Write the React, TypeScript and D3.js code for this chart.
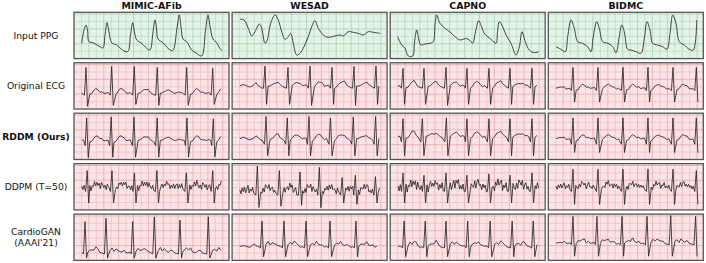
import React from 'react';
import * as d3 from 'd3';

type P = [number, number];
type Beat = [number, number, number]; // [time, R level, S level]

const COLUMNS = ['MIMIC-AFib', 'WESAD', 'CAPNO', 'BIDMC'];
const ROW_LABELS: string[][] = [['Input PPG'], ['Original ECG'], ['RDDM (Ours)'], ['DDPM (T=50)'], ['CardioGAN', "(AAAI'21)"]];
const BOLD_ROW = 2;

// ---------- PPG traces (time in s, amplitude 0..1) ----------
const PPG_MIMIC: P[] = [
  [0.497, 0.33], [0.645, 0.62], [0.774, 0.726], [0.87, 0.62], [0.968, 0.365], [1.226, 0.343], [1.484, 0.294], [1.677, 0.257], [1.871, 0.229],
  [2.0, 0.51], [2.129, 0.775], [2.258, 0.575], [2.432, 0.343], [2.755, 0.294], [3.077, 0.2], [3.465, 0.149],
  [3.645, 0.51], [3.787, 0.775], [3.903, 0.575], [4.045, 0.402], [4.368, 0.33], [4.69, 0.222], [4.903, 0.186],
  [5.097, 0.575], [5.226, 0.834], [5.323, 0.66], [5.419, 0.423], [5.742, 0.343], [6.065, 0.222], [6.368, 0.171],
  [6.645, 0.661], [6.794, 0.942], [6.903, 0.683], [7.032, 0.423], [7.271, 0.365], [7.594, 0.186], [7.916, 0.114], [8.239, 0.056],
  [8.484, 0.618], [8.645, 0.942], [8.774, 0.704], [8.968, 0.423], [9.206, 0.343], [9.355, 0.25], [9.529, 0.171],
];
const PPG_WESAD: P[] = [
  [0.51, 0.849], [0.768, 0.834], [1.045, 0.654], [1.265, 0.488], [1.477, 0.581], [1.755, 0.747], [1.91, 0.654], [2.123, 0.33],
  [2.27, 0.402], [2.49, 0.762], [2.768, 0.942], [2.98, 0.834], [3.2, 0.581], [3.413, 0.417], [3.626, 0.473], [3.781, 0.546],
  [3.949, 0.33], [4.168, 0.078], [4.381, 0.114], [4.639, 0.257], [4.916, 0.473], [5.135, 0.689], [5.348, 0.819], [5.561, 0.654],
  [5.884, 0.51], [6.206, 0.46], [6.639, 0.488], [6.961, 0.51], [7.174, 0.488], [7.497, 0.581], [7.819, 0.568], [8.142, 0.546],
  [8.465, 0.51], [8.787, 0.581], [9.11, 0.568], [9.542, 0.546],
];
const PPG_CAPNO: P[] = [
  [0.484, 0.473], [0.632, 0.359], [0.742, 0.294], [0.955, 0.222], [1.168, 0.056], [1.452, 0.056], [1.568, 0.359], [1.71, 0.618],
  [1.826, 0.445], [1.968, 0.294], [2.245, 0.315], [2.568, 0.33], [2.781, 0.365], [2.89, 0.726], [3.0, 0.942], [3.213, 0.762],
  [3.535, 0.654], [3.858, 0.575], [4.181, 0.473], [4.503, 0.402], [4.9, 0.434], [5.148, 0.391], [5.323, 0.33], [5.503, 0.575],
  [5.71, 0.819], [5.923, 0.661], [6.097, 0.531], [6.503, 0.417], [6.826, 0.33], [6.923, 0.575], [7.039, 0.797], [7.258, 0.689],
  [7.471, 0.51], [7.794, 0.33], [8.116, 0.078], [8.329, 0.25], [8.503, 0.581], [8.716, 0.365], [8.974, 0.186], [9.297, 0.127], [9.58, 0.149],
];
const PPG_BIDMC: P[] = [
  [0.497, 0.257], [0.819, 0.2], [1.097, 0.149], [1.252, 0.473], [1.465, 0.834], [1.677, 0.654], [1.897, 0.365], [2.219, 0.33],
  [2.542, 0.257], [2.755, 0.149], [2.903, 0.473], [3.123, 0.797], [3.29, 0.654], [3.51, 0.365], [3.832, 0.33], [4.155, 0.257],
  [4.368, 0.127], [4.581, 0.473], [4.735, 0.726], [4.903, 0.581], [5.123, 0.2], [5.335, 0.186], [5.658, 0.149], [5.981, 0.114],
  [6.194, 0.438], [6.368, 0.797], [6.561, 0.618], [6.736, 0.33], [7.058, 0.294], [7.381, 0.257], [7.658, 0.2], [7.852, 0.546],
  [8.026, 0.942], [8.239, 0.762], [8.452, 0.365], [8.774, 0.294], [9.097, 0.2], [9.355, 0.186], [9.574, 0.834],
];

// ---------- ECG beats per panel ----------
const ORIG_MIMIC: Beat[] = [[0.774, 0.9, 0.06], [2.432, 0.92, 0.08], [3.89, 0.92, 0.1], [5.374, 0.9, 0.08], [7.271, 0.9, 0.08], [8.948, 0.88, 0.1]];
const ORIG_WESAD: Beat[] = [[2.123, 0.93, 0.1], [3.606, 0.9, 0.1], [5.026, 0.93, 0.08], [6.445, 0.9, 0.1], [7.865, 0.92, 0.08], [9.284, 0.93, 0.1]];
const ORIG_CAPNO: Beat[] = [[0.826, 0.88, 0.1], [2.181, 0.88, 0.1], [3.6, 0.9, 0.08], [4.955, 0.88, 0.1], [6.374, 0.88, 0.1], [7.729, 0.88, 0.1], [9.148, 0.88, 0.1]];
const ORIG_BIDMC: Beat[] = [[1.594, 0.9, 0.15], [3.206, 0.9, 0.15], [4.819, 0.9, 0.15], [6.432, 0.9, 0.15], [8.045, 0.9, 0.15], [9.55, 0.9, 0.15]];

const RDDM_MIMIC: Beat[] = [[0.819, 0.9, 0.04], [2.4, 0.92, 0.05], [3.871, 0.92, 0.05], [5.368, 0.9, 0.05], [7.29, 0.9, 0.05], [8.987, 0.88, 0.06]];
const RDDM_WESAD: Beat[] = [[2.19, 0.93, 0.08], [3.56, 0.9, 0.08], [4.96, 0.93, 0.08], [6.35, 0.9, 0.08], [7.82, 0.92, 0.08], [9.26, 0.93, 0.08]];
const RDDM_CAPNO: Beat[] = [[0.826, 0.88, 0.08], [2.075, 0.88, 0.08], [3.623, 0.9, 0.08], [4.952, 0.88, 0.08], [6.374, 0.88, 0.08], [7.729, 0.88, 0.08], [9.148, 0.88, 0.08]];
const RDDM_BIDMC: Beat[] = [[1.594, 0.9, 0.15], [3.206, 0.9, 0.15], [4.819, 0.9, 0.15], [6.432, 0.9, 0.15], [8.045, 0.9, 0.15], [9.55, 0.9, 0.15]];

const DDPM_MIMIC: Beat[] = [[0.85, 0.85, 0.15], [2.45, 0.85, 0.15], [3.9, 0.8, 0.15], [5.35, 0.85, 0.15], [7.25, 0.8, 0.15], [8.95, 0.85, 0.15]];
const DDPM_WESAD: Beat[] = [[1.63, 0.95, 0.05], [3.05, 0.85, 0.08], [4.38, 0.82, 0.1], [5.63, 0.92, 0.05], [7.1, 0.7, 0.15], [7.95, 0.75, 0.12], [9.25, 0.72, 0.15]];
const DDPM_CAPNO: Beat[] = [[0.83, 0.8, 0.15], [2.18, 0.75, 0.15], [3.6, 0.8, 0.15], [4.95, 0.75, 0.15], [6.37, 0.78, 0.15], [7.73, 0.75, 0.15], [9.15, 0.8, 0.15]];
const DDPM_BIDMC: Beat[] = [[1.594, 0.88, 0.12], [3.206, 0.88, 0.12], [4.819, 0.88, 0.12], [6.432, 0.88, 0.12], [8.045, 0.88, 0.12], [9.55, 0.85, 0.12]];

const GAN_MIMIC: Beat[] = [[0.71, 0.84, 0.05], [2.065, 0.91, 0.05], [3.787, 0.84, 0.05], [5.181, 0.94, 0.05], [6.839, 0.87, 0.05], [8.665, 0.94, 0.05]];
const GAN_WESAD: Beat[] = [[1.93, 0.85, 0.08], [3.35, 0.85, 0.08], [4.77, 0.85, 0.08], [6.32, 0.85, 0.08], [7.99, 0.85, 0.08], [9.6, 0.85, 0.08]];
const GAN_CAPNO: Beat[] = [[0.9, 0.85, 0.08], [2.26, 0.85, 0.08], [3.6, 0.85, 0.08], [5.0, 0.85, 0.08], [6.45, 0.85, 0.08], [7.87, 0.85, 0.08], [9.23, 0.85, 0.08]];
const GAN_BIDMC: Beat[] = [[1.594, 0.95, 0.09], [3.14, 0.95, 0.09], [4.756, 0.95, 0.09], [6.37, 0.95, 0.09], [7.9, 0.97, 0.09], [9.5, 0.95, 0.09]];

// baseline level per column, per ECG row
const BASE_ORIG = [0.35, 0.5, 0.5, 0.45];
const BASE_RDDM = [0.42, 0.45, 0.5, 0.45];
const BASE_DDPM = [0.5, 0.42, 0.5, 0.5];
const BASE_GAN = [0.17, 0.3, 0.3, 0.37];
// ripple / noise strength per column, per ECG row
const AMP_ORIG = [0.03, 0.03, 0.03, 0.025];
const AMP_RDDM = [0.03, 0.03, 0.03, 0.025];
const AMP_DDPM = [0.07, 0.08, 0.1, 0.06];
const AMP_GAN = [0.02, 0.02, 0.02, 0.02];

// P / T wave shape around each R peak (dt, offset)
const WAVE_CLEAN: P[] = [[-0.75, 0], [-0.6, 0.05], [-0.45, 0], [-0.25, 0], [-0.16, -0.03], [0.18, -0.03], [0.35, 0], [0.5, 0.06], [0.65, 0.08], [0.8, 0.03], [0.92, 0]];
const WAVE_GAN: P[] = [[-0.7, 0], [-0.55, 0.06], [-0.4, 0], [0.2, 0], [0.38, 0.1], [0.52, 0.03], [0.68, 0.11], [0.85, 0]];
// small hand-read ripple and heavy noise sequences
const RIPPLE = [0, 0.6, 1, 0.3, -0.4, -0.8, -0.2, 0.5, 0.9, 0.2, -0.6, -1, -0.3, 0.4, 0.7, 0.1, -0.5, -0.7, 0.2, 0.8, 0.4, -0.3, -0.9, -0.4, 0.3];
const NOISE = [0.2, -0.9, 0.7, -0.3, 1, -0.6, 0.1, 0.8, -1, 0.4, -0.2, 0.9, -0.7, 0.3, -0.5, 0.6, -0.8, 1, -0.1, -0.6, 0.5, -0.9, 0.8, 0.2, -0.4, 0.7, -1, 0.3, 0.9, -0.5, 0.1, -0.7, 0.6, -0.2, 0.4, -0.8, 0.5, -0.3, 0.9, -0.6, 0.2];

const T_START = 0.5;
const T_END = [9.53, 9.55, 9.58, 9.6];

const PANEL_W = 155;
const PANEL_H = 46.3;
const COL_X0 = 74;
const COL_STEP = 158.1;
const ROW_Y0 = 12.3;
const ROW_STEP = 50.45;

function waveAt(wave: P[], dt: number): number {
  if (dt <= wave[0][0] || dt >= wave[wave.length - 1][0]) return 0;
  for (let i = 1; i < wave.length; i++) {
    if (dt <= wave[i][0]) {
      const [t0, a0] = wave[i - 1];
      const [t1, a1] = wave[i];
      return a0 + ((a1 - a0) * (dt - t0)) / (t1 - t0);
    }
  }
  return 0;
}

function ecgTrace(beats: Beat[], base: number, wave: P[], jitter: number[], amp: number, step: number, t1: number, qDip: number): P[] {
  const pts: P[] = [];
  let i = 0;
  for (let t = T_START; t <= t1 + 1e-9; t += step, i++) {
    if (beats.some((b) => Math.abs(t - b[0]) < 0.16)) continue;
    let off = 0;
    beats.forEach((b) => (off += waveAt(wave, t - b[0])));
    pts.push([t, base + off + jitter[i % jitter.length] * amp]);
  }
  beats.forEach(([tb, r, s]) => {
    if (tb < T_START || tb > t1) return;
    pts.push([tb - 0.1, base - qDip], [tb, r], [tb + 0.1, s]);
  });
  pts.sort((a, b) => a[0] - b[0]);
  return pts;
}

const ECG_ROWS = [
  { beats: [ORIG_MIMIC, ORIG_WESAD, ORIG_CAPNO, ORIG_BIDMC], base: BASE_ORIG, wave: WAVE_CLEAN, jitter: RIPPLE, amp: AMP_ORIG, step: 0.13, q: 0.05 },
  { beats: [RDDM_MIMIC, RDDM_WESAD, RDDM_CAPNO, RDDM_BIDMC], base: BASE_RDDM, wave: WAVE_CLEAN, jitter: RIPPLE, amp: AMP_RDDM, step: 0.13, q: 0.12 },
  { beats: [DDPM_MIMIC, DDPM_WESAD, DDPM_CAPNO, DDPM_BIDMC], base: BASE_DDPM, wave: WAVE_CLEAN, jitter: NOISE, amp: AMP_DDPM, step: 0.075, q: 0.1 },
  { beats: [GAN_MIMIC, GAN_WESAD, GAN_CAPNO, GAN_BIDMC], base: BASE_GAN, wave: WAVE_GAN, jitter: RIPPLE, amp: AMP_GAN, step: 0.13, q: 0.03 },
];

const PPG = [PPG_MIMIC, PPG_WESAD, PPG_CAPNO, PPG_BIDMC];

const GRID_T = 0.48;
const GRID_A = 0.16;

export default function App() {
  const x = d3.scaleLinear().domain([0, 10]).range([0, PANEL_W]);
  const y = d3.scaleLinear().domain([0, 1]).range([PANEL_H, 0]);
  const ppgLine = d3
    .line<P>()
    .x((d) => x(d[0]))
    .y((d) => y(d[1]))
    .curve(d3.curveCatmullRom.alpha(0.5));
  const ecgLine = d3
    .line<P>()
    .x((d) => x(d[0]))
    .y((d) => y(d[1]));

  const vTicks = d3.range(GRID_T, 10, GRID_T);
  const hTicks = d3.range(GRID_A, 1, GRID_A);

  const panels: React.ReactNode[] = [];
  for (let r = 0; r < 5; r++) {
    for (let c = 0; c < 4; c++) {
      const gx = COL_X0 + c * COL_STEP;
      const gy = ROW_Y0 + r * ROW_STEP;
      const green = r === 0;
      const bg = green ? '#e3f3e5' : '#fce3e6';
      const major = green ? '#a3cfaa' : '#e3a3ad';
      const minor = green ? '#bcdcc1' : '#eebcc4';
      let d: string;
      if (r === 0) d = ppgLine(PPG[c]) || '';
      else {
        const e = ECG_ROWS[r - 1];
        d = ecgLine(ecgTrace(e.beats[c], e.base[c], e.wave, e.jitter, e.amp[c], e.step, T_END[c], e.q)) || '';
      }
      panels.push(
        <g key={`${r}-${c}`} transform={`translate(${gx},${gy})`}>
          <rect width={PANEL_W} height={PANEL_H} fill={bg} />
          {vTicks.map((t, i) => (
            <line key={`v${i}`} x1={x(t)} x2={x(t)} y1={0} y2={PANEL_H} stroke={i % 2 === 1 ? major : minor} strokeWidth={0.7} />
          ))}
          {hTicks.map((a, i) => (
            <line key={`h${i}`} x1={0} x2={PANEL_W} y1={y(a)} y2={y(a)} stroke={i % 2 === 1 ? major : minor} strokeWidth={0.7} />
          ))}
          <path d={d} fill="none" stroke="#262626" strokeWidth={0.85} strokeLinejoin="round" />
          <rect width={PANEL_W} height={PANEL_H} fill="none" stroke="#555" strokeWidth={1.3} />
        </g>
      );
    }
  }

  return (
    <div style={{ position: 'absolute', left: 0, top: 0 }}>
      <svg width={706} height={263} style={{ display: 'block', fontFamily: 'DejaVu Sans, sans-serif' }}>
        <rect width={706} height={263} fill="#fff" />
        {COLUMNS.map((name, c) => (
          <text key={name} x={COL_X0 + c * COL_STEP + PANEL_W / 2} y={8.7} textAnchor="middle" fontSize={9.4} fontWeight="bold" fill="#111">
            {name}
          </text>
        ))}
        {ROW_LABELS.map((lines, r) => {
          const cy = ROW_Y0 + r * ROW_STEP + PANEL_H / 2;
          const lh = 10.5;
          const first = cy + 3.2 - ((lines.length - 1) * lh) / 2;
          return (
            <text key={r} x={36} y={first} textAnchor="middle" fontSize={9.2} fontWeight={r === BOLD_ROW ? 'bold' : 'normal'} fill="#111">
              {lines.map((l, i) => (
                <tspan key={i} x={36} dy={i === 0 ? 0 : lh}>
                  {l}
                </tspan>
              ))}
            </text>
          );
        })}
        {panels}
      </svg>
    </div>
  );
}
